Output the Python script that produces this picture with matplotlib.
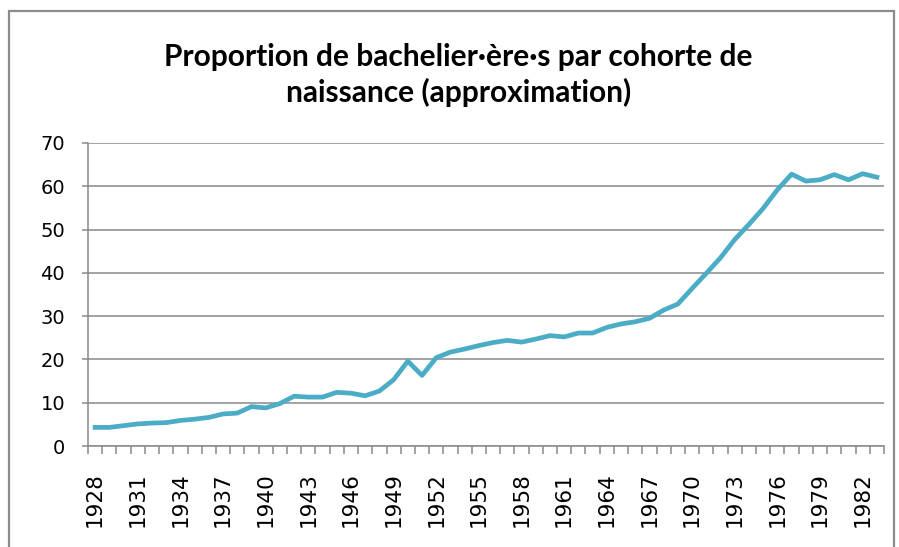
import matplotlib.pyplot as plt
import numpy as np
from matplotlib.patches import Rectangle

years = list(range(1928, 1984))
values = [4.3, 4.3, 4.7, 5.1, 5.3, 5.4, 5.9, 6.2, 6.6, 7.4,
          7.6, 9.1, 8.8, 9.8, 11.5, 11.3, 11.3, 12.4, 12.2, 11.6,
          12.7, 15.3, 19.6, 16.3, 20.4, 21.7, 22.4, 23.2, 23.9, 24.4,
          24.0, 24.7, 25.5, 25.2, 26.1, 26.1, 27.4, 28.2, 28.7, 29.5,
          31.4, 32.8, 36.4, 39.9, 43.5, 47.7, 51.2, 54.9, 59.2, 62.8,
          61.2, 61.5, 62.7, 61.5, 62.9, 62.1]
title = "Proportion de bachelier·ère·s par cohorte de\nnaissance (approximation)"

grid_col = '#898989'
line_col = '#4bacc6'

fig = plt.figure(figsize=(8.99, 5.47), dpi=100)
ax = fig.add_axes([88 / 899, 1 - 446 / 547, (884 - 88) / 899, (446 - 143) / 547])

x = np.arange(len(years))
ax.plot(x, values, color=line_col, lw=3.4, solid_joinstyle='round', zorder=3)

ax.set_xlim(-0.5, len(years) - 0.5)
ax.set_ylim(0, 70)
ax.set_yticks(range(0, 71, 10))
ax.yaxis.grid(True, color=grid_col, lw=1.1)
ax.set_axisbelow(True)

lab_idx = x[::3]
ax.set_xticks(lab_idx)
ax.set_xticklabels([str(years[i]) for i in lab_idx], rotation=90)
ax.set_xticks(np.arange(len(years) + 1) - 0.5, minor=True)
ax.tick_params(axis='x', which='major', length=0, pad=19, labelsize=15.5)
ax.tick_params(axis='x', which='minor', length=6, width=1.1, color=grid_col)
ax.tick_params(axis='y', length=4.5, width=1.1, color=grid_col, pad=12, labelsize=14)

for s in ['top', 'right']:
    ax.spines[s].set_visible(False)
for s in ['left', 'bottom']:
    ax.spines[s].set_color(grid_col)
    ax.spines[s].set_linewidth(1.1)

fig.text(0.51, 1 - 75 / 547, title, ha='center', va='center',
         fontsize=21.5, fontweight='bold', family='Lato', linespacing=1.3)

fig.patches.append(Rectangle((8.5 / 899, -0.05), (894 - 8.5) / 899, 1.05 - 10.5 / 547,
                             transform=fig.transFigure, fill=False,
                             edgecolor='#8c8c8c', lw=1.6))

fig.savefig('out.png', dpi=100)
